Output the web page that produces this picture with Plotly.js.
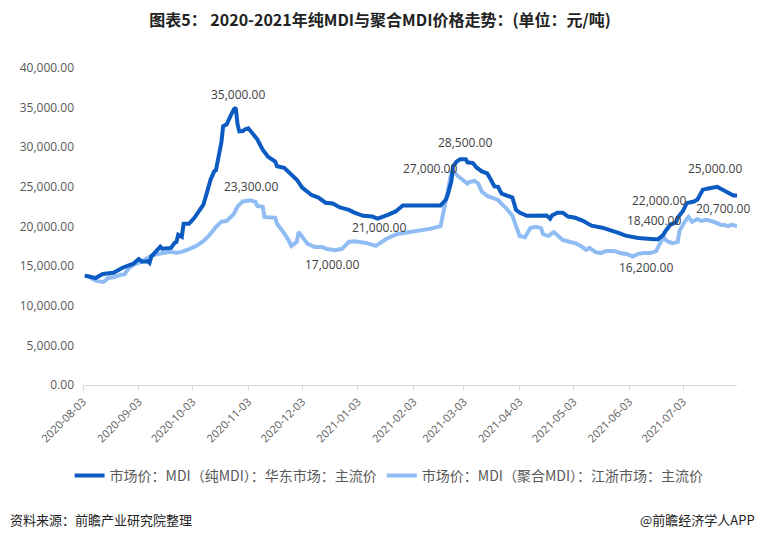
<!DOCTYPE html>
<html>
<head>
<meta charset="utf-8">
<script src="https://cdn.plot.ly/plotly-3.0.1.min.js"></script>
<style>html,body{margin:0;padding:0;background:#fff;}#chart{width:760px;height:541px;}</style>
</head>
<body>
<div id="chart"></div>
<script>
// 纯MDI 华东市场 主流价
const pureDates = ["2020-08-04","2020-08-07","2020-08-10","2020-08-14","2020-08-20","2020-08-25","2020-08-31","2020-09-03","2020-09-05","2020-09-08","2020-09-09","2020-09-10","2020-09-15","2020-09-16","2020-09-21","2020-09-23","2020-09-24","2020-09-25","2020-09-27","2020-09-28","2020-10-01","2020-10-04","2020-10-09","2020-10-11","2020-10-13","2020-10-15","2020-10-16","2020-10-19","2020-10-20","2020-10-22","2020-10-23","2020-10-24","2020-10-26","2020-10-27","2020-10-28","2020-10-29","2020-10-31","2020-11-01","2020-11-03","2020-11-05","2020-11-08","2020-11-11","2020-11-14","2020-11-18","2020-11-19","2020-11-23","2020-11-27","2020-11-30","2020-12-03","2020-12-06","2020-12-08","2020-12-12","2020-12-16","2020-12-20","2020-12-24","2020-12-29","2021-01-01","2021-01-06","2021-01-11","2021-01-14","2021-01-17","2021-01-20","2021-01-24","2021-01-28","2021-02-01","2021-02-18","2021-02-21","2021-02-22","2021-02-24","2021-02-25","2021-02-27","2021-03-01","2021-03-04","2021-03-05","2021-03-08","2021-03-10","2021-03-13","2021-03-16","2021-03-18","2021-03-20","2021-03-22","2021-03-24","2021-03-27","2021-03-30","2021-04-01","2021-04-03","2021-04-07","2021-04-18","2021-04-20","2021-04-21","2021-04-24","2021-04-27","2021-04-30","2021-05-04","2021-05-08","2021-05-13","2021-05-19","2021-05-25","2021-05-28","2021-06-01","2021-06-05","2021-06-08","2021-06-17","2021-06-19","2021-06-22","2021-06-23","2021-06-26","2021-06-29","2021-06-30","2021-07-03","2021-07-05","2021-07-07","2021-07-09","2021-07-11","2021-07-14","2021-07-17","2021-07-21","2021-07-22","2021-07-25","2021-07-29","2021-07-31","2021-08-02"];
const pureValues = [13800,13650,13500,14000,14150,14800,15300,15900,15550,15600,15400,16200,17450,17200,17300,17950,18050,18950,18700,20350,20350,21100,22750,24300,25900,26950,27100,30600,32650,32900,33500,33900,34800,35000,32900,32000,32050,32250,32400,31900,31000,29700,28800,28200,27600,27400,26550,25900,24900,24400,24000,23650,23000,22900,22400,22100,21750,21350,21250,21000,21200,21500,21900,22650,22650,22650,23400,24000,25700,27600,28200,28500,28500,28100,28000,27450,26950,26700,25900,25050,25000,24150,23900,23650,22100,21750,21350,21400,21000,21400,21750,21750,21250,21100,20750,20100,19850,19450,19200,18850,18700,18550,18400,18400,18950,19350,20250,20500,21100,22000,22950,23000,23150,23400,24650,24800,25000,25000,24650,24150,23900,23900];

// 聚合MDI 江浙市场 主流价
const polyDates = ["2020-08-04","2020-08-06","2020-08-08","2020-08-11","2020-08-14","2020-08-15","2020-08-17","2020-08-20","2020-08-24","2020-08-26","2020-08-28","2020-08-31","2020-09-04","2020-09-08","2020-09-10","2020-09-13","2020-09-16","2020-09-20","2020-09-24","2020-09-27","2020-10-01","2020-10-05","2020-10-09","2020-10-12","2020-10-16","2020-10-19","2020-10-22","2020-10-25","2020-10-26","2020-10-28","2020-10-31","2020-11-01","2020-11-04","2020-11-07","2020-11-08","2020-11-11","2020-11-12","2020-11-18","2020-11-19","2020-11-22","2020-11-25","2020-11-27","2020-11-30","2020-12-01","2020-12-03","2020-12-06","2020-12-10","2020-12-14","2020-12-17","2020-12-21","2020-12-25","2020-12-29","2021-01-01","2021-01-05","2021-01-08","2021-01-13","2021-01-16","2021-01-19","2021-01-25","2021-02-01","2021-02-06","2021-02-12","2021-02-18","2021-02-21","2021-02-22","2021-02-24","2021-02-25","2021-02-28","2021-03-03","2021-03-05","2021-03-06","2021-03-09","2021-03-11","2021-03-13","2021-03-16","2021-03-19","2021-03-22","2021-03-24","2021-03-27","2021-03-30","2021-04-02","2021-04-03","2021-04-06","2021-04-09","2021-04-12","2021-04-15","2021-04-16","2021-04-19","2021-04-22","2021-04-24","2021-04-27","2021-05-01","2021-05-04","2021-05-07","2021-05-10","2021-05-12","2021-05-15","2021-05-18","2021-05-21","2021-05-26","2021-05-29","2021-06-02","2021-06-05","2021-06-08","2021-06-11","2021-06-15","2021-06-18","2021-06-20","2021-06-22","2021-06-24","2021-06-27","2021-06-30","2021-07-01","2021-07-04","2021-07-06","2021-07-08","2021-07-11","2021-07-13","2021-07-16","2021-07-20","2021-07-24","2021-07-26","2021-07-28","2021-07-30","2021-08-02"];
const polyValues = [13750,13750,13400,13100,13000,13100,13500,13600,13900,13950,14600,15150,15500,16000,16300,16500,16650,16800,16700,16800,17150,17550,18150,18800,19950,20600,20700,21350,21600,22500,23200,23200,23300,23100,22600,22500,21200,21100,20350,19450,18450,17550,18050,19300,18700,17800,17400,17400,17150,17000,17150,18050,18150,18050,17900,17550,18050,18450,19050,19300,19450,19700,20050,23100,24400,26900,27000,26300,25800,25400,25600,25750,25400,24400,23850,23600,23350,22850,22200,21350,19300,18800,18650,19800,19950,19800,19050,18800,19300,18900,18300,18050,17900,17550,17050,17300,16800,16650,16900,16900,16650,16500,16200,16550,16650,16650,16900,17800,18650,18150,17900,18050,19450,20650,21200,20600,20950,20700,20850,20600,20200,20200,20050,20200,20050];

const seriesNames = ["市场价：MDI（纯MDI）：华东市场：主流价", "市场价：MDI（聚合MDI）：江浙市场：主流价"];
const yTickVals = [0,5000,10000,15000,20000,25000,30000,35000,40000];

// Data labels: which series and date
const labelSeries = ["pure","poly","poly","pure","pure","poly","pure","pure","poly","pure","poly"];
const labelDates  = ["2020-10-27","2020-11-04","2020-12-21","2021-01-14","2021-03-01","2021-02-25","2021-07-21","2021-07-03","2021-07-13","2021-06-17","2021-06-05"];
const labelShiftX = [2,1,-3,1,5,-23,0,-24,22,0,13];
const labelShiftY = [13,14,-14,-9,17,3,18,10,12,19,-11];

const fmt = v => v.toLocaleString('en-US',{minimumFractionDigits:2, maximumFractionDigits:2});

const annotations = labelDates.map((d,i)=>{
  const dates = labelSeries[i]==="pure" ? pureDates : polyDates;
  const vals  = labelSeries[i]==="pure" ? pureValues : polyValues;
  const idx = dates.indexOf(d);
  return {x:d, y:vals[idx], xref:'x', yref:'y', text:fmt(vals[idx]), showarrow:false,
    xshift:labelShiftX[i], yshift:labelShiftY[i],
    font:{family:'"Open Sans", "Noto Sans", sans-serif', size:12, color:'#404040'}};
});
annotations.push({xref:'paper', yref:'paper', x:-0.115, y:-0.423, xanchor:'left', yanchor:'middle', showarrow:false,
  text:'资料来源：前瞻产业研究院整理', font:{family:'"Noto Sans CJK SC", sans-serif', size:13, color:'#222'}});
annotations.push({xref:'paper', yref:'paper', x:1.0306, y:-0.423, xanchor:'right', yanchor:'middle', showarrow:false,
  text:'@前瞻经济学人APP', font:{family:'"Noto Sans CJK SC", sans-serif', size:13, color:'#222'}});

const traces = [
  {x:pureDates, y:pureValues, type:'scatter', mode:'lines', name:seriesNames[0],
   line:{color:'#0B5BC2', width:4}},
  {x:polyDates, y:polyValues, type:'scatter', mode:'lines', name:seriesNames[1],
   line:{color:'#90BCF4', width:4}}
];
// draw the dark line on top
traces.reverse();

const layout = {
  width:760, height:541,
  margin:{l:83, r:23, t:68, b:156},
  paper_bgcolor:'#fff', plot_bgcolor:'#fff',
  title:{text:'图表5： 2020-2021年纯MDI与聚合MDI价格走势：(单位：元/吨)', x:0.5, xref:'container', y:0.963, yref:'container', yanchor:'middle',
    font:{family:'"Noto Sans CJK SC", sans-serif', size:16, color:'#222', weight:'bold'}},
  xaxis:{type:'date', range:['2020-08-03','2021-08-02'], tick0:'2020-08-03', dtick:'M1', tickformat:'%Y-%m-%d',
    tickangle:-45, ticks:'outside', ticklen:5, tickcolor:'#d9d9d9', showline:true, linecolor:'#d9d9d9', linewidth:1,
    showgrid:false, zeroline:false,
    tickfont:{family:'"Open Sans", "Noto Sans", sans-serif', size:11, color:'#595959'}},
  yaxis:{range:[0,40000], tickvals:yTickVals, tickformat:',.2f', showgrid:false, zeroline:false, showline:false,
    ticks:'', ticklabelstandoff:8,
    tickfont:{family:'"Open Sans", "Noto Sans", sans-serif', size:12, color:'#595959'}},
  legend:{orientation:'h', x:0.468, xanchor:'center', y:-0.287, yanchor:'middle', traceorder:'reversed',
    font:{family:'"Noto Sans CJK SC", sans-serif', size:14, color:'#595959'}, itemwidth:30},
  showlegend:true,
  annotations:annotations
};

Plotly.newPlot('chart', traces, layout, {displayModeBar:false, staticPlot:true});
</script>
</body>
</html>
